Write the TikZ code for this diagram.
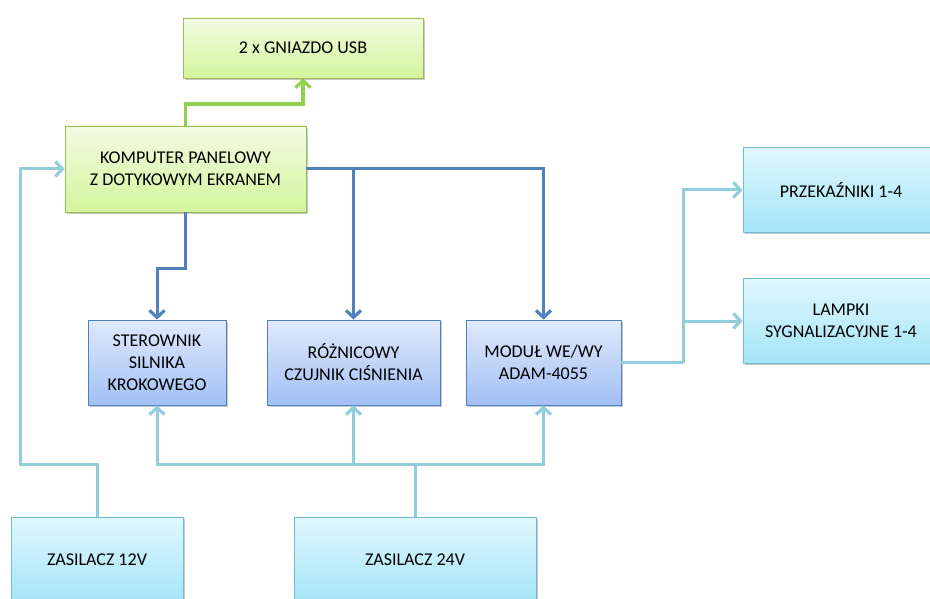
\documentclass[tikz,border=0pt]{standalone}
\usepackage{fontspec}
\setmainfont{Carlito}
\usetikzlibrary{arrows.meta,shadows}
\definecolor{gborder}{HTML}{9BBB59}
\definecolor{gtop}{HTML}{F2FBE3}
\definecolor{gbot}{HTML}{D4F59C}
\definecolor{garrow}{HTML}{92D050}
\definecolor{bborder}{HTML}{4F81BD}
\definecolor{btop}{HTML}{E0E9FC}
\definecolor{bbot}{HTML}{A2C0F5}
\definecolor{barrowc}{HTML}{4F81BD}
\definecolor{cborder}{HTML}{6FBCD2}
\definecolor{ctop}{HTML}{E0F7FD}
\definecolor{cbot}{HTML}{A3E5F8}
\definecolor{carrowc}{HTML}{92CDDC}
\tikzset{
  basebox/.style={rectangle, line width=0.8pt, align=center, inner sep=0pt,
    font=\fontsize{18}{22}\selectfont,
    drop shadow={shadow xshift=1.5pt, shadow yshift=-1.8pt, opacity=0.35, fill=black!60}},
  gbox/.style={basebox, draw=gborder, top color=gtop, bottom color=gbot},
  bbox/.style={basebox, draw=bborder, top color=btop, bottom color=bbot},
  cbox/.style={basebox, draw=cborder, top color=ctop, bottom color=cbot},
  tip/.style={-{Straight Barb[length=7pt,width=15pt,line width=3.2pt]}},
  garrow/.style={tip, draw=garrow, line width=3.4pt},
  barrow/.style={tip, draw=barrowc, line width=3pt},
  carrow/.style={tip, draw=carrowc, line width=3pt},
  cline/.style={draw=carrowc, line width=3pt},
}
\begin{document}
\begin{tikzpicture}[x=1pt,y=-1pt]
\useasboundingbox (0,0) rectangle (930,599);
\node[gbox, minimum width=240pt, minimum height=60pt] (usb) at (303,48) {2 x GNIAZDO USB};
\node[gbox, minimum width=241pt, minimum height=86pt] (komp) at (185.5,169) {KOMPUTER PANELOWY\\Z DOTYKOWYM EKRANEM};
\node[bbox, minimum width=138pt, minimum height=85pt] (ster) at (157,362.5) {STEROWNIK\\SILNIKA\\KROKOWEGO};
\node[bbox, minimum width=173pt, minimum height=85pt] (roz) at (353.5,362.5) {RÓŻNICOWY\\CZUJNIK CIŚNIENIA};
\node[bbox, minimum width=155pt, minimum height=85pt] (mod) at (543.5,362.5) {MODUŁ WE/WY\\ADAM-4055};
\node[cbox, minimum width=196pt, minimum height=85pt] (prz) at (841,190) {PRZEKAŹNIKI 1-4};
\node[cbox, minimum width=196pt, minimum height=85pt] (lamp) at (841,321) {LAMPKI\\SYGNALIZACYJNE 1-4};
\node[cbox, minimum width=172pt, minimum height=86pt] (z12) at (97,560) {ZASILACZ 12V};
\node[cbox, minimum width=242pt, minimum height=86pt] (z24) at (415,560) {ZASILACZ 24V};
% green
\coordinate (g1) at (185.5,104);
\draw[garrow] (komp.north) -- (g1) -| (usb.south);
% blue
\coordinate (b1) at (185.5,268);
\draw[barrow] (komp.south) -- (b1) -| (ster.north);
\draw[barrow] (komp.east) -| (roz.north);
\draw[barrow] (komp.east) -| (mod.north);
% cyan right
\coordinate (c1) at (683,362.5);
\draw[cline] (mod.east) -- (c1);
\draw[carrow] (c1) |- (prz.west);
\draw[carrow] (c1) |- (lamp.west);
% cyan 12V
\coordinate (d1) at (97,464);
\coordinate (d2) at (20,464);
\draw[carrow] (z12.north) -- (d1) -- (d2) |- (komp.west);
% cyan 24V
\coordinate (e1) at (415,464);
\draw[cline] (z24.north) -- (e1);
\draw[carrow] (e1) -| (ster.south);
\draw[carrow] (e1) -| (roz.south);
\draw[carrow] (e1) -| (mod.south);
\end{tikzpicture}
\end{document}
